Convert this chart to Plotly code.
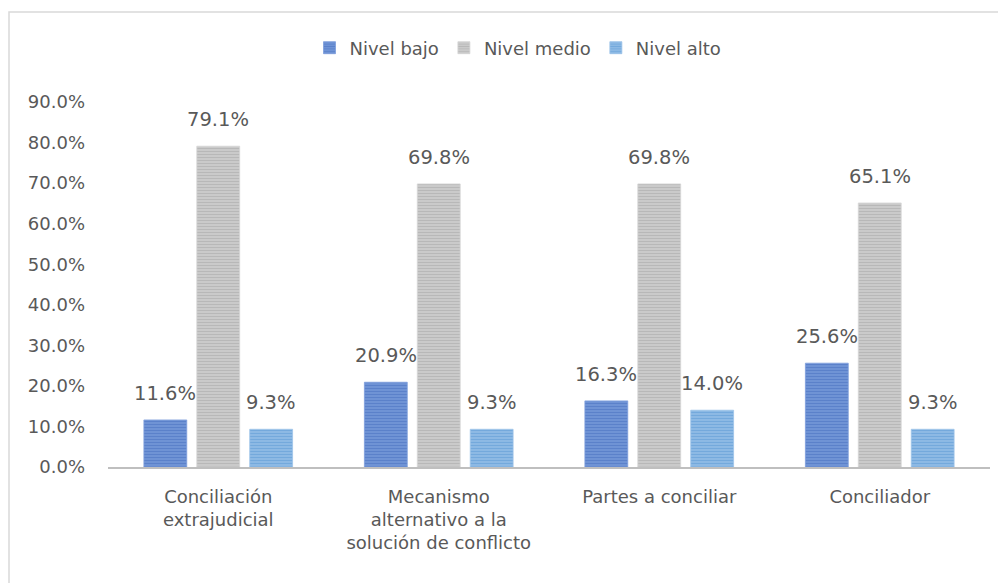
import plotly.graph_objects as go

categories = ["Conciliación<br>extrajudicial",
              "Mecanismo<br>alternativo a la<br>solución de conflicto",
              "Partes a conciliar",
              "Conciliador"]
nivel_bajo = [11.6, 20.9, 16.3, 25.6]
nivel_medio = [79.1, 69.8, 69.8, 65.1]
nivel_alto = [9.3, 9.3, 14.0, 9.3]
series_names = ["Nivel bajo", "Nivel medio", "Nivel alto"]

FONT = "DejaVu Sans"
TXT = "#595959"

styles = [
    dict(fg="#3A66B8", bg="#7C9DDC"),
    dict(fg="#9A9A9A", bg="#D6D6D6"),
    dict(fg="#4C8FD0", bg="#9CC3E9"),
]

# page body has an 8px margin; all target pixel positions are shifted by it
OFF = 8
W, H = 998, 575
L, R, T, B = 108 - OFF, W - (990 - OFF), 102 - OFF, H - (467 - OFF)
pw = W - L - R
ph = H - T - B
BARGAP = 0.28
BARGROUPGAP = 0.19

def px_x(p):
    return (p - OFF - L) / pw

def px_y(p):
    return (H - B - (p - OFF)) / ph

fig = go.Figure()
all_series = [nivel_bajo, nivel_medio, nivel_alto]
for name, vals, st in zip(series_names, all_series, styles):
    fig.add_trace(go.Bar(
        x=categories, y=vals, name=name,
        marker=dict(color=st["bg"], line=dict(width=0.8, color=st["bg"]),
                    pattern=dict(shape="-", size=3, solidity=0.6,
                                 fgcolor=st["fg"], bgcolor=st["bg"], fillmode="overlay")),
    ))

# data labels above each bar, offset by the bar's slot inside its group
slot = pw / len(categories) * (1 - BARGAP) / len(all_series)
annotations = []
for si, vals in enumerate(all_series):
    for cat, v in zip(categories, vals):
        annotations.append(dict(
            x=cat, y=v, xref="x", yref="y", text=f"{v:.1f}%",
            showarrow=False, xanchor="center", yanchor="bottom",
            xshift=(si - 1) * slot, yshift=13,
            font=dict(family=FONT, size=19.5, color=TXT)))

fig.update_layout(
    width=W, height=H,
    margin=dict(l=L, r=R, t=T, b=B),
    paper_bgcolor="white", plot_bgcolor="white",
    barmode="group", bargap=BARGAP, bargroupgap=BARGROUPGAP,
    font=dict(family=FONT, size=18, color=TXT),
    showlegend=True,
    legend=dict(orientation="h", x=px_x(518), xanchor="center",
                y=px_y(48), yanchor="middle",
                font=dict(family=FONT, size=18, color=TXT),
                itemwidth=30, traceorder="normal"),
    xaxis=dict(showline=True, linecolor="#BFBFBF", linewidth=2,
               ticks="", showgrid=False, ticklabelstandoff=12,
               tickfont=dict(family=FONT, size=18, color=TXT)),
    yaxis=dict(range=[0, 90], dtick=10, tickformat=".1f", ticksuffix="%",
               showgrid=False, zeroline=False, showline=False, ticks="",
               tickfont=dict(family=FONT, size=18, color=TXT), ticklabelstandoff=22),
    annotations=annotations,
    shapes=[dict(type="rect", xref="paper", yref="paper",
                 x0=px_x(9), x1=px_x(1030), y0=px_y(620), y1=px_y(12),
                 line=dict(color="#D9D9D9", width=1.5), fillcolor="rgba(0,0,0,0)",
                 layer="below")],
)

fig.write_html("out.html")
